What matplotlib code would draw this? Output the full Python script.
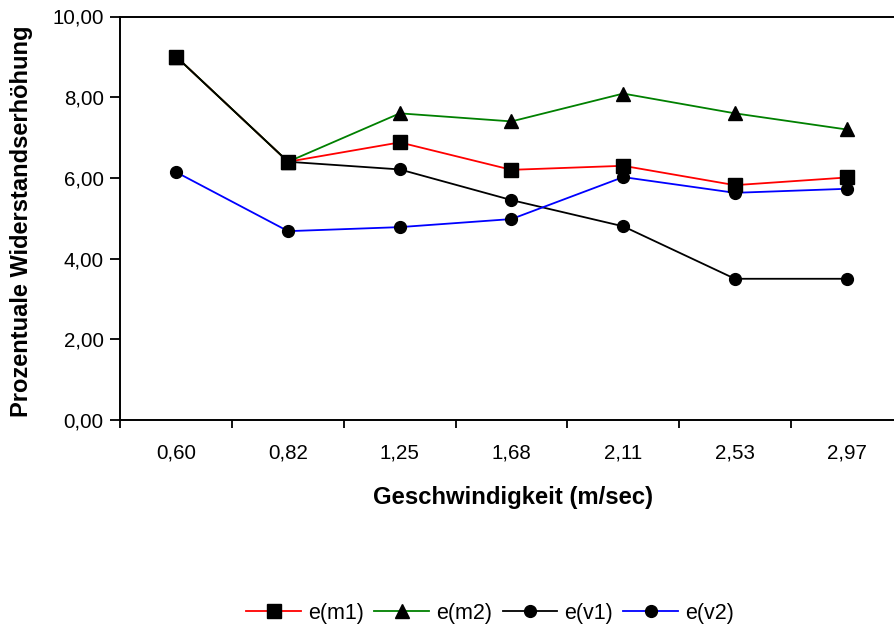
import matplotlib
matplotlib.use("Agg")
import matplotlib.pyplot as plt
from matplotlib.lines import Line2D
from matplotlib.ticker import FixedLocator, FuncFormatter

plt.rcParams['font.family'] = ['Liberation Sans', 'DejaVu Sans']

categories = ["0,60", "0,82", "1,25", "1,68", "2,11", "2,53", "2,97"]
e_m1 = [9.0, 6.4, 6.88, 6.2, 6.3, 5.82, 6.01]
e_m2 = [9.0, 6.4, 7.6, 7.4, 8.09, 7.6, 7.2]
e_v1 = [9.0, 6.4, 6.21, 5.45, 4.8, 3.5, 3.5]
e_v2 = [6.14, 4.68, 4.78, 4.98, 6.02, 5.63, 5.73]
series_names = ["e(m1)", "e(m2)", "e(v1)", "e(v2)"]

fig = plt.figure(figsize=(8.95, 6.32), dpi=100)
ax = fig.add_axes([120.5/895, 1-420/632, 782/895, (420-16.5)/632])

x = list(range(len(categories)))
specs = [(e_m1, 'red', 's', 9.5), (e_m2, 'green', '^', 10), (e_v1, 'black', 'o', 8.5), (e_v2, 'blue', 'o', 8.5)]

# lines
for vals, col, mk, ms in specs:
    ax.plot(x, vals, color=col, lw=1.3, zorder=2, clip_on=False)
# markers (first series on top)
for i, (vals, col, mk, ms) in enumerate(reversed(specs)):
    ax.plot(x, vals, ls='none', marker=mk, ms=ms, mfc='black', mec='black', zorder=3 + i, clip_on=False)

ax.set_xlim(-0.5, len(categories) - 0.5)
ax.set_ylim(0, 10)
ax.set_yticks([0, 2, 4, 6, 8, 10])
ax.yaxis.set_major_formatter(FuncFormatter(lambda v, p: f"{v:.2f}".replace('.', ',')))

ax.xaxis.set_major_locator(FixedLocator([i - 0.5 for i in range(len(categories) + 1)]))
ax.xaxis.set_major_formatter(FuncFormatter(lambda v, p: ""))
ax.xaxis.set_minor_locator(FixedLocator(x))
ax.set_xticklabels(categories, minor=True)
ax.tick_params(axis='x', which='minor', length=0, pad=17, labelsize=14.8)
ax.tick_params(axis='x', which='major', length=6, width=1.3, direction='out')
ax.tick_params(axis='y', length=7, width=1.3, direction='out', labelsize=14.8, pad=5)

ax.spines['right'].set_visible(False)
for s in ['left', 'bottom', 'top']:
    ax.spines[s].set_linewidth(1.4)

ax.set_xlabel("Geschwindigkeit (m/sec)", fontsize=17.2, fontweight='bold')
ax.set_ylabel("Prozentuale Widerstandserhöhung", fontsize=17, fontweight='bold')
ax.xaxis.set_label_coords((513-120)/782, -(486-420)/403.5)
ax.yaxis.set_label_coords(-(120-33)/782, (420-221)/403.5)

handles = [Line2D([0], [0], color=col, lw=1.3, marker=mk, ms=ms, mfc='black', mec='black')
           for (vals, col, mk, ms) in specs]
fig.legend(handles, series_names, loc='center', bbox_to_anchor=(490/895, 1-613/632), ncol=4,
           frameon=False, fontsize=15.5, handlelength=2.55, handletextpad=0.3, columnspacing=0.5)

fig.savefig("out.png", dpi=100)
